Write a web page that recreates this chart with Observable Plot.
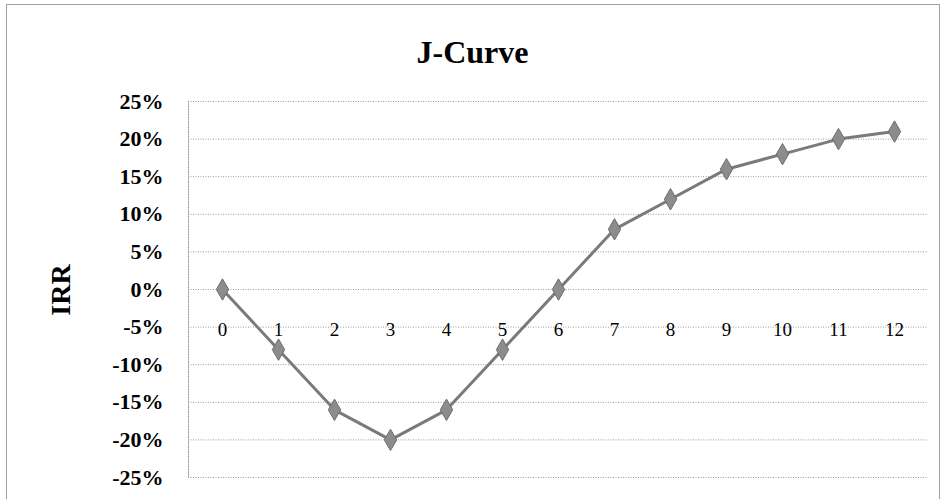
<!DOCTYPE html>
<html>
<head>
<meta charset="utf-8">
<script src="https://cdn.jsdelivr.net/npm/d3@7"></script>
<script src="https://cdn.jsdelivr.net/npm/@observablehq/plot@0.6"></script>
<style>
  html, body { margin: 0; padding: 0; background: #fff; }
  #wrap { position: relative; width: 945px; height: 499px; overflow: hidden; background: #fff; }
  #border { position: absolute; left: 6px; top: 4px; width: 932px; height: 520px; border: 1px solid #a0a0a0; }
  #title { position: absolute; left: 0; top: 34px; width: 945px; text-align: center; font: bold 32px "Liberation Serif", "Times New Roman", serif; line-height: 36px; color: #000; }
  #ylabel { position: absolute; left: 61px; top: 290px; transform: translate(-50%, -50%) rotate(-90deg); font: bold 28px "Liberation Serif", "Times New Roman", serif; color: #000; white-space: nowrap; }
  #chart { position: absolute; left: 0; top: 80px; }
</style>
</head>
<body>
<div id="wrap">
  <div id="border"></div>
  <div id="title">J-Curve</div>
  <div id="ylabel">IRR</div>
  <div id="chart"></div>
</div>
<script>
const years = [0, 1, 2, 3, 4, 5, 6, 7, 8, 9, 10, 11, 12];
const irr = [0, -8, -16, -20, -16, -8, 0, 8, 12, 16, 18, 20, 21];
const yTicks = [25, 20, 15, 10, 5, 0, -5, -10, -15, -20, -25];

const data = years.map((y, i) => ({year: y, irr: irr[i]}));

const chart = Plot.plot({
  width: 945,
  height: 419,
  marginLeft: 188,
  marginRight: 18,
  marginTop: 21,
  marginBottom: 22,
  style: {background: "transparent", fontFamily: "'Liberation Serif', 'Times New Roman', serif"},
  x: {type: "point", domain: years, padding: 0.5, axis: null},
  y: {domain: [-25, 25], ticks: yTicks, label: null},
  marks: [
    Plot.gridY(yTicks, {stroke: "#9a9a9a", strokeOpacity: 1, strokeDasharray: "1,1.5", strokeWidth: 1}),
    Plot.frame({anchor: "left", stroke: "#9a9a9a", strokeDasharray: "1,1.5"}),
    Plot.axisY(yTicks, {
      tickSize: 0, tickPadding: 25, fontSize: 22, fontWeight: "bold", label: null,
      tickFormat: d => d + "%", fill: "#000"
    }),
    Plot.text(years, {x: d => d, y: () => 0, dy: 40, text: d => String(d), fontSize: 19, fill: "#000"}),
    Plot.line(data, {x: "year", y: "irr", stroke: "#7a7a7a", strokeWidth: 3}),
    Plot.dot(data, {x: "year", y: "irr", symbol: "diamond", r: 6.5, fill: "#8c8c8c", stroke: "#6e6e6e", strokeWidth: 1})
  ]
});
document.getElementById("chart").appendChild(chart);
</script>
</body>
</html>
